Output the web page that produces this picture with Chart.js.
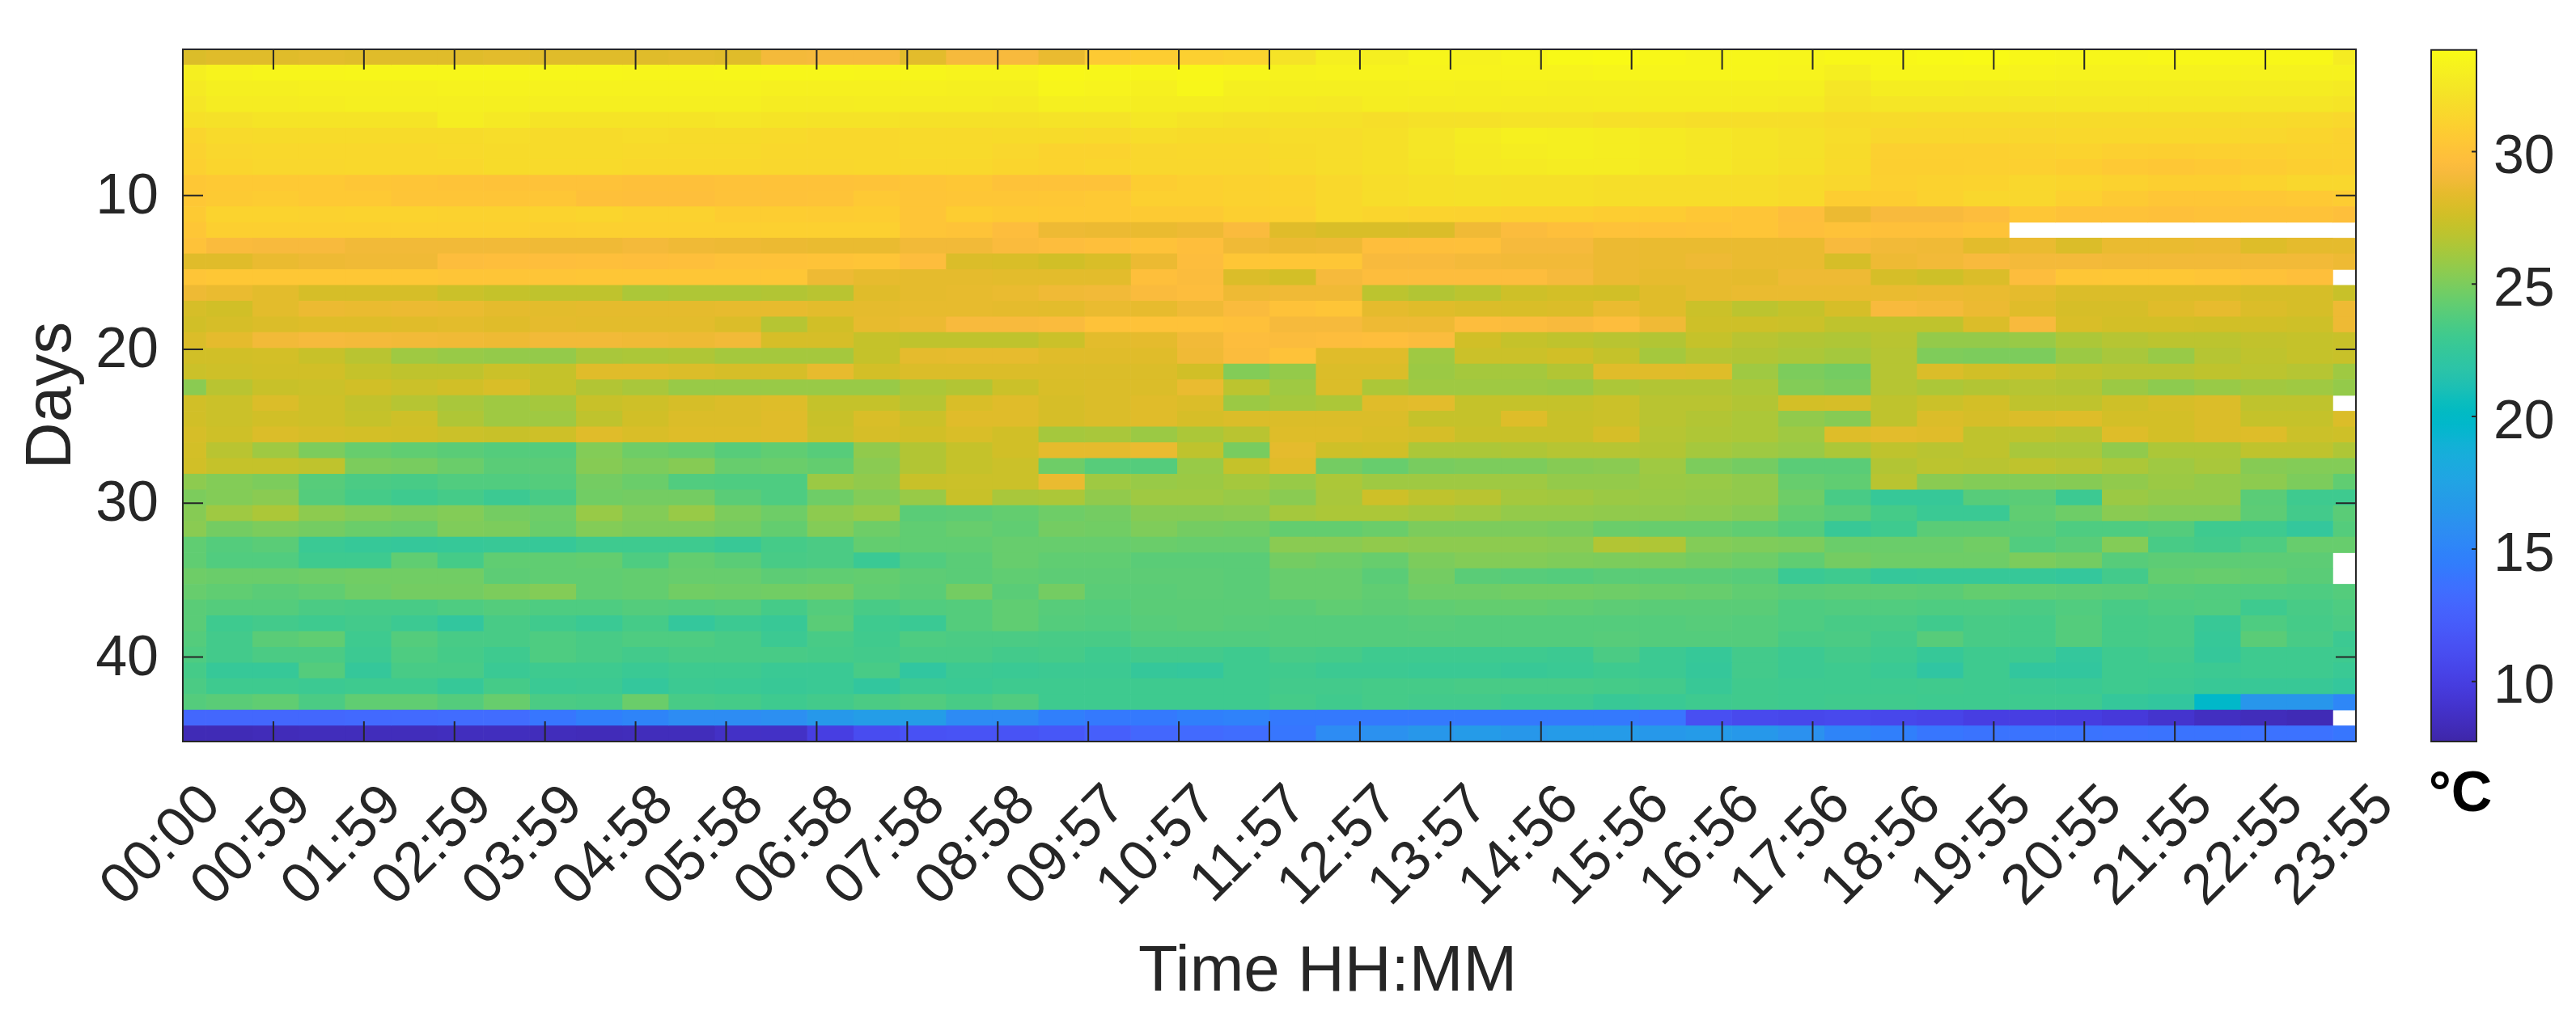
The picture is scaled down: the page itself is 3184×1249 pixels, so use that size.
<!DOCTYPE html>
<html lang="en">
<head>
<meta charset="UTF-8">
<title>Temperature by day and time</title>
<style>
  html, body { margin: 0; background: white; overflow: hidden; }
  canvas { position: absolute; left: 0; top: 0; }
</style>
<script src="https://cdn.jsdelivr.net/npm/chart.js"></script>
</head>
<body>
<canvas id="heat" width="3184" height="1249"></canvas>
<canvas id="bar" width="3184" height="1249"></canvas>
<script>
const timeLabels = ['00:00','00:59','01:59','02:59','03:59','04:58','05:58','06:58','07:58','08:58','09:57','10:57','11:57','12:57','13:57','14:56','15:56','16:56','17:56','18:56','19:55','20:55','21:55','22:55','23:55'];
const dayTicks = [10, 20, 30, 40];
const barTicks = [10, 15, 20, 25, 30];
const tempMin = 7.73;
const tempMax = 33.84;

// one row per image line, half hourly columns, null = no reading (white)
const tempRows = [
[28,28.2,28.2,28.3,28.2,28.2,28.2,28.3,28.2,28.2,28.2,28.3,28.2,29.1,29.2,29.2,28.3,29.2,29.3,28.6,30.6,30.8,31,31.2,32.2,33,33,33.4,33.2,33.4,33.7,33.8,33.6,33.4,33.5,33.4,33.6,33.6,33.7,33.8,33.6,33.5,33.5,33.6,33.6,33.6,33.6,32.8],
[33,33.3,33.4,33.4,33.5,33.5,33.5,33.5,33.5,33.5,33.4,33.4,33.5,33.5,33.5,33.4,33.4,33.3,33.3,33.6,33.5,33.4,33.6,33.4,33.2,33.3,33.3,33.3,33.3,33.3,33.3,33.4,33.4,33.4,33.4,33.3,33,33.4,33.4,33.4,33.3,33.2,33.2,33.2,33.2,33.2,33.2,33.2],
[32.7,33,33,33.1,33.1,33.1,33.2,33.2,33.2,33.2,33.2,33.2,33.2,33.1,33.1,33.1,33.1,33,33,33.4,33.3,33.1,33.5,33,33,33,33,33.1,33,33.1,33,33,33,33,33,33,32.4,32.9,32.9,32.8,32.9,32.8,32.8,32.8,32.8,32.8,32.8,32.7],
[32.4,32.8,32.8,32.9,33,33,33,33,33,33,33,33,33,32.8,32.8,32.9,32.8,32.8,32.7,33,33,32.9,32.9,32.8,32.7,32.6,32.9,32.8,32.9,32.8,32.8,32.9,32.9,32.9,32.8,32.7,32.2,32.4,32.4,32.4,32.4,32.5,32.5,32.5,32.5,32.4,32.4,32.3],
[32,32.1,32.3,32.3,32.3,32.3,32.9,32.6,32.3,32.3,32.3,32.3,32.4,32.3,32.2,32.2,32.1,32.1,32.1,32.2,32.2,32.5,32.2,32.1,32.1,32.1,31.9,32.1,32.1,32.2,32.2,32,32,31.9,31.9,31.9,31.7,31.7,31.6,31.6,31.7,31.7,31.7,31.7,31.7,31.7,31.6,31.5],
[31.3,31.6,31.7,31.7,31.7,31.7,31.7,31.8,31.7,31.7,31.8,31.7,31.7,31.6,31.5,31.5,31.6,31.6,31.7,31.7,31.6,31.8,31.7,31.7,31.8,31.8,32,32.4,32.8,33.1,33,32.9,32.7,32.5,32.3,32.1,31.8,31.4,31.4,31.4,31.4,31.5,31.5,31.5,31.5,31.4,31.3,31.1],
[31.1,31.4,31.5,31.5,31.5,31.5,31.6,31.7,31.7,31.7,31.6,31.6,31.6,31.5,31.5,31.5,31.6,31.6,31.4,31.2,31.2,31.4,31.5,31.5,31.7,31.8,32,32.4,32.7,32.9,33,32.9,32.7,32.5,32.3,32.1,31.7,31,31,31,31.1,31.2,31,30.9,31,31,31.1,31.1],
[31,31.3,31.4,31.4,31.5,31.5,31.5,31.7,31.6,31.6,31.5,31.5,31.5,31.4,31.4,31.5,31.5,31.5,31.3,31.2,31.3,31.4,31.4,31.4,31.6,31.8,32,32.3,32.6,32.7,32.8,32.8,32.6,32.5,32.2,32,31.6,30.9,30.9,31,31,30.8,30.5,30.4,30.5,30.7,30.9,31],
[30.4,30.5,30.5,30.5,30.3,30.2,30.1,30,30,30,29.9,29.9,30,30,30,30.1,30.2,30.4,30,30,30,30.8,31,31.1,31.2,31.5,31.8,32,32.1,32,32,31.9,31.8,31.8,31.8,31.6,31.4,31,31.1,31.2,31.4,31.3,31.1,30.9,30.9,31.2,31.4,31.4],
[30.4,30.6,30.7,30.5,30.5,30.2,30.2,30.2,30.3,29.9,29.8,29.8,30,30,30.1,30.5,30.2,30.3,30.3,30.4,30.5,31,31,31.1,31.2,31.5,31.8,32,32.1,32,32,31.9,31.8,31.8,31.8,31.6,30.8,30.8,31.1,31.4,31.4,31,30.6,30.3,30.3,30.4,30.5,30.7],
[30.6,31.2,31.2,31.1,31.2,31.2,31.1,31.1,31.2,31.3,31.1,31.1,30.8,30.8,30.7,30.8,30.2,30.8,30.6,30.5,30.5,30.6,30.6,30.9,31,31.5,31.3,31.2,31.1,31,31,30.8,30.7,30.4,30.2,29.7,28.7,29.3,29.3,29.6,30.3,30,30,29.9,30,30,30,29.8],
[30.3,30.9,30.9,30.9,30.9,31,31,31,30.9,31,31,31,31,31,31,31,30.2,30.1,29.6,28.8,28.7,28.6,28.8,29.4,28.2,27.9,27.9,28,28.9,29.5,29.8,30,30,30.1,30.2,29.8,30,29.9,29.9,30.1,null,null,null,null,null,null,null,null],
[30,29.4,29.3,29.3,29,29,29,29,28.9,28.9,29.1,28.9,28.8,28.7,28.6,28.6,29,29,29.4,29.6,29.8,30,29.7,28.9,28.7,28.8,29.7,29.8,29.9,29.2,29.2,28.7,28.6,28.6,28.6,28.6,29.3,29,28.9,28.3,28.6,28,28.6,28.6,28.7,28.1,28.4,28.4],
[28.2,28.2,28.6,28.8,28.9,28.9,29.6,29.7,29.7,29.8,29.7,29.8,30,30,30.1,30.2,29.6,28,27.9,27.6,27.9,28.7,29.6,30.3,30.3,30.3,29.3,29.3,29.1,29,29,28.7,28.6,28.8,28.6,28.6,27.8,28.8,29,29.3,29.1,29.1,29,29,29,29,29,28.8],
[30.2,30.4,30.4,30.4,30.4,30.4,30.2,30.2,30.2,30.3,30.3,30.3,30.3,30.3,28.8,28.5,28.4,28.4,28.3,28.3,28.3,29.8,29.5,28,27.7,29.2,29.6,29.6,29.6,29.6,29.2,28.7,28.5,28.5,28.4,28.8,28.8,27.8,27.5,28,29.6,30.3,30.4,30.4,30.2,30,29.8,null],
[28.8,28.6,28.3,27.8,27.8,27.8,27.4,27.2,27,27,26.4,26.5,26.5,26.6,26.8,28.2,28.4,28.5,28.6,28.9,29,29.4,29.6,28.8,28.9,28.9,26.9,26.6,26.9,27.5,27.7,27.6,28.2,28.5,28.6,28.6,28.6,28.6,28.7,28.6,28.4,28,28,28,28,27.8,27.8,27.3],
[27.8,27.6,28.3,28.7,28.6,28.7,28.6,28.4,28.3,28.4,28.4,28.4,28.5,28.5,28.3,28.4,28.5,28.5,28.4,28.3,28.6,28.5,28.9,29.4,30,30.2,28.4,28.2,28,27.9,28,28.6,28.2,27.4,26.9,27.2,27.8,29.3,29.1,28.7,28.2,27.8,27.8,28.2,28.5,28,27.8,28.8],
[27.6,27.8,28,28.1,28.1,28.2,28.3,28.2,28.4,28.3,28.3,28.3,28,26.7,27.6,28.5,28.7,29.3,29.3,29.4,30,30,30,29.9,29.2,29.2,28.8,28.8,29.6,29.5,29.3,29.6,28.9,27.5,27.5,27.4,27,27,27,28,29.3,27.9,27.7,27.7,27.6,27.6,27.5,28.8],
[28,28.4,29,29.2,29.1,29,28.9,28.8,29,29,28.9,28.8,29,27.8,27.8,27.2,27,27,27,27.4,28.3,28.4,29,29.6,29.5,29.6,29.7,29.5,27.6,27.2,27,26.8,26.6,27.2,26.8,26.6,26.5,26.8,25.7,25.7,25.8,26.4,26.7,26.9,26.9,27.1,27.2,27.3],
[27.6,27.6,27.7,27.3,26.8,26,25.8,25.7,25.7,26.3,26.4,26.5,26.2,26.2,26.2,27.2,28.4,28.5,28.5,28.2,28.2,28.2,28.9,29.5,30,28.2,28.2,26,27.4,27.4,27.6,27.2,26.2,26.7,26.6,26.4,26.2,26.7,25.1,25,25,25.9,26.3,25.8,26.7,27,27.2,27.3],
[27.4,27.5,27.6,27.6,27.2,27,27,27.4,27.2,28.2,28.2,28,27.8,27.8,28.5,27.7,28,28,28,28,28,28,27.6,25.2,25.7,28,28,25.9,26.2,26.2,26.6,28.2,28.2,28.1,26,25,24.8,26.7,28,27.6,27.4,27,26.8,26.8,27,26.9,26.7,26],
[25.4,26.8,27.3,27.4,27.6,27.4,27.6,27.9,27.2,26.6,26.3,25.8,25.8,25.8,25.8,25.8,26.4,26.6,27.4,27.9,28,28,28.6,26.9,26,28,26.4,26,26,26,25.9,26.4,26.6,26.6,26.4,25.2,25,26.7,26.4,26.6,26.7,26.6,25.9,25.5,25.8,26.1,26,25.7],
[27.6,27.4,28,27.5,27.1,26.7,26.3,26,26.2,27.3,27.5,27.8,28,28.1,27.2,27.2,26.7,27.9,28.2,27.8,28,28.2,28,25.9,26.2,26.4,28.2,28.3,27.2,27.2,27.2,27.4,26.8,26.8,26.6,27.7,27.8,27,27.4,27.7,27,27,27.5,27.8,28,27,27,null],
[27.6,27.4,27.6,27.5,27.2,27.5,26.5,26,26,27,27.6,28,28,28.2,27.3,27.9,27.4,28.2,28.2,27.8,28,28.2,27.8,28,28,28,28,27.2,27.2,28.1,27.3,27.4,26.8,26.6,26.4,25.6,25.3,27,28,27.8,28,28.1,27.7,27.7,28,27.2,27.2,28],
[27.8,27.5,28,27.8,27.7,27.6,27.4,27.3,27.5,28.2,27.9,28.1,28.1,28.2,27.4,27.8,27.6,27.9,27.6,26.2,26.3,25.9,26.4,26.8,28.1,28.1,27.9,27.8,27.3,27.3,27.3,27.8,26.7,26.5,26.4,26,28.1,28.3,28.2,27,27,26.8,28.1,27.7,28,28.1,27.4,27.5],
[27.7,26.8,26,25,24.4,24.2,24,23.8,23.8,25.2,24.6,24.4,23.9,24.2,23.9,25.6,26.6,27.2,27.6,28.4,28.4,28.6,27,24.9,28.4,27.5,27.6,26.4,26.4,26.5,26.7,26.7,26.6,26.2,26,25.8,26.4,27,26.8,27,26.3,26.3,25.6,26.4,26.4,27,27,26.5],
[27.6,27.2,27.2,27,25,24.9,24.5,24,24,25.3,25,25.3,24.4,24.5,24.3,25.4,26.6,27.2,27.4,24.6,23.9,23.8,25.8,27.2,28.2,24.8,24.4,24.9,25,25,25.3,25.4,26,25,24.8,24,24,26.6,26.9,26.8,27,26.8,26.4,26,26.3,25.3,25.2,25.2],
[25.5,25.2,25,23.9,23.5,23.4,23.7,23.7,23.8,24.8,24.5,23.7,23.6,23.6,25.9,25.6,27.3,27.4,27.4,28.6,26,25.8,25.9,26.2,25.8,26.4,26,26,26,26,25.7,25.7,25.9,25.8,25.6,24.4,24.2,26.8,25.4,25.2,25.2,25.3,25.6,25.9,25.7,25.5,25,24.2],
[25,25.2,25.4,23.8,23.3,23,23.3,22.9,23.4,24.7,24.8,24.8,24,23.6,24.6,25.2,25.8,27.3,26.3,26.4,25.6,26,26,25.8,25.4,26.3,27.5,27,26.8,26.2,26.1,25.9,25.8,25.7,25.6,24.6,23.4,22.6,22.6,23.9,24,22.9,25.9,25.7,25.7,24,23,23],
[25.3,26,26.4,25.5,25.2,25,25.2,24.8,24.6,25.8,25.2,25.8,25,24.6,25.5,25.8,24,24.1,24.3,24.6,24.8,25.3,25.3,25.4,26.2,26.4,26.4,26.2,26,25.7,25.7,25.6,25.6,25.5,25.3,24.3,24,23.3,22.8,22.8,24.2,24.6,25.4,25.2,25.2,24.1,23.2,24],
[25.4,24.8,25,24.8,24.5,24.4,25.1,25,24.5,25.2,25,25,24.8,24.3,25.2,24.6,24.2,24.4,24.2,24.8,24.7,25.1,24.8,24.7,24.3,24.3,24.5,25,25,25,24.9,24.5,24.4,24.4,24.2,23.8,22.7,23,24,24,24,23.6,23.6,23.8,23,23,22.4,23.8],
[24.2,23.8,24,22.8,22.6,22.5,22.6,22.7,22.6,23,23,23,22.7,23.3,23.5,24.3,24.2,24.2,24.4,24.4,24.4,24.5,24.4,24.4,25.4,25.4,25.6,25.5,25.5,25.5,25.4,26.6,26.5,25.2,25.1,25,24.5,24.5,24.5,24.7,23.7,24,25.2,23.4,23.2,23.6,24.4,24.4],
[24.2,23.7,23.7,23,23,24.2,23.3,24.2,24.2,24.3,23.6,24.3,24,23.4,23.5,22.8,23.7,24,24.4,24.2,24.2,24,24,24,24.8,24.6,24.4,25,25.2,25.2,25.1,25,25,24.8,24.6,24.2,24.8,24.6,24.6,24.6,25,24.8,23.9,24.1,24.1,24.1,24.1,null],
[24.6,24.5,24.5,24.6,24.7,24.7,24.7,24.1,24.2,24.2,24.3,24.4,24.4,24.1,24.2,24.3,24.1,24,24.2,24.1,24.1,24.1,24.1,24,24.4,24.4,24,24.8,24,23.9,23.8,24,24,24,23.9,22.8,23,22.5,22.6,22.6,22.6,22.4,23.2,24.3,24.4,24.3,24,null],
[24.4,24.2,24,24.2,24.6,24.8,24.8,25,25.2,24.2,24.3,24.7,24.6,24.7,24.8,24.2,24,24.8,24,24.8,24,24,24.1,24,24.4,24.4,24.2,24.6,24.6,24.7,24.7,24.6,24.5,24.4,24.2,24,24.1,24.1,24,24.3,24.2,24.1,24,23.8,23.7,23.7,23.6,23.8],
[24,23.8,23.8,23.5,23.4,23.4,23.6,23.8,23.6,23.6,23.8,23.7,23.8,23.3,23.8,23.4,23.7,23.8,24.2,23.9,23.8,24,24,24,24,24.2,24.1,24.2,24.3,24.3,24.2,24.1,24,24,24,23.6,23.7,23.7,23.6,23.6,23.5,23.7,23.4,23.6,23.7,23,23.4,23.6],
[24,23,23.2,23,23.2,22.9,22.3,23.4,23.1,22.8,23.3,22.4,22.9,22.7,24,23,22.8,23.8,24.2,23.8,23.7,23.9,24,23.9,23.8,23.8,23.8,23.9,23.8,23.8,23.8,23.8,23.8,23.9,23.8,23.6,23.4,23.4,23.1,23.4,23.3,23.8,23.3,23.4,22.7,23.6,23.3,23.5],
[23.8,23.2,24,24.2,23,23.8,23.4,23.4,23.6,23.4,23.6,23.6,23.4,22.9,23.4,23.1,23.6,23.5,23.5,23.4,23.4,23.7,23.7,23.7,23.8,23.8,23.8,23.8,23.8,23.8,23.8,23.9,23.8,23.8,23.8,23.4,23.5,23.2,23.9,23.4,23.3,23.8,23.3,23.4,22.6,24,23.4,22.9],
[23.6,23.2,23.5,23.5,22.9,23.6,23.3,23,23.6,23.4,23.2,23.4,23.4,23.4,23.3,23.2,23.4,23.4,23.2,23.3,23,23.2,23.2,23,23.4,23.3,23,23,23,23,22.9,23.5,22.9,22.6,23.2,22.9,23.2,23,22.6,23,23,22.4,23,23.2,22.5,23,23,23],
[23.3,22.6,22.6,23.8,22.5,23.4,23.4,22.8,23,23,22.8,23,23,22.8,22.8,23.4,22.2,22.9,22.8,22.9,22.9,22.5,22.4,23,23.1,22.9,22.9,22.8,22.8,22.7,22.8,23,22.9,22.5,23.2,22.9,23,22.8,22.1,23,22.3,22.3,23,23,22.9,23,23,22.8],
[23.5,23,23,22.9,23,23,22.6,23.3,22.8,22.9,22.4,22.9,22.8,22.7,22.8,22.3,22.9,22.8,23,23,23,23,23,23,23.2,23.2,23.3,23.3,23.4,23.4,23.4,23.3,23.2,22.7,23.1,23,23,23,23.1,23,22.9,22.8,23,22.9,22.7,22.7,22.7,22.4],
[23.8,24,24.2,23.5,24.2,24.2,23.8,24.4,23.5,23.4,24.5,23.4,23.3,23,23.2,23.5,23.7,23.4,23.7,23,23,23,23,23,23.3,23.1,23.3,23.2,23.2,23,23,22.7,22.8,23,23.1,23,23.1,23.1,23,23,23,23,22.5,22.3,19.8,16.4,16.4,15.2],
[13,13,13,13,13.1,13.2,13.3,13.3,14,14.6,15,15.6,15.6,15.8,16.6,17,17,15.5,15.5,14.6,14.2,14.2,14.6,14.8,14.2,14.2,14.2,14.2,14.2,14.2,14.2,14.2,13.9,11.2,10.8,10.6,10.8,10.6,10.4,10,10,9.9,9.6,9.1,8.6,8.4,8.2,null],
[8.2,8.2,8.3,8.4,8.4,8.4,8.5,8.5,8.4,8.3,8.4,8.4,8.8,8.8,10,11,11.4,11.5,11.5,11.8,12.4,13,13.2,13.4,14,15.6,16,16.5,16.8,16.5,16.8,16.8,16.6,16.8,16.6,16,15,14.6,14,13.8,13.8,13.8,13.7,13.8,13.8,13.7,13.7,14]
];

// parula
const parula = [[.2422,.1504,.6603],[.2504,.1650,.7076],[.2578,.1818,.7511],[.2647,.1978,.7952],[.2706,.2147,.8364],[.2751,.2342,.8710],[.2783,.2559,.8991],[.2803,.2782,.9221],[.2813,.3006,.9414],[.2810,.3228,.9579],[.2795,.3447,.9717],[.2760,.3667,.9829],[.2699,.3892,.9906],[.2602,.4123,.9952],[.2440,.4358,.9988],[.2206,.4603,.9973],[.1963,.4847,.9892],[.1834,.5074,.9798],[.1786,.5289,.9682],[.1764,.5499,.9520],[.1687,.5703,.9359],[.1540,.5902,.9218],[.1460,.6091,.9079],[.1380,.6276,.8973],[.1248,.6459,.8883],[.1113,.6635,.8763],[.0952,.6798,.8598],[.0689,.6948,.8394],[.0297,.7082,.8163],[.0036,.7203,.7917],[.0067,.7312,.7660],[.0433,.7411,.7394],[.0964,.7500,.7120],[.1408,.7584,.6842],[.1717,.7670,.6554],[.1938,.7758,.6251],[.2161,.7843,.5923],[.2470,.7918,.5567],[.2906,.7973,.5188],[.3406,.8008,.4789],[.3909,.8029,.4354],[.4456,.8024,.3909],[.5044,.7993,.3480],[.5616,.7942,.3045],[.6174,.7876,.2612],[.6720,.7793,.2227],[.7242,.7698,.1910],[.7738,.7598,.1646],[.8203,.7498,.1535],[.8634,.7406,.1596],[.9035,.7330,.1774],[.9393,.7288,.2100],[.9728,.7298,.2394],[.9956,.7434,.2371],[.9970,.7659,.2199],[.9952,.7893,.2028],[.9892,.8136,.1885],[.9786,.8386,.1766],[.9676,.8639,.1643],[.9610,.8890,.1537],[.9597,.9135,.1423],[.9628,.9373,.1265],[.9691,.9606,.1064],[.9769,.9839,.0805]];

function colorAt(f) {
  const p = Math.min(Math.max(f, 0), 1) * (parula.length - 1);
  const i = Math.min(Math.floor(p), parula.length - 2);
  const c = parula[i].map((v, k) => Math.round(255 * (v + (parula[i + 1][k] - v) * (p - i))));
  return `rgb(${c[0]},${c[1]},${c[2]})`;
}
function tempColor(v) { return colorAt((v - tempMin) / (tempMax - tempMin)); }

const ink = '#262626';
const fontName = '"Liberation Sans", Arial, sans-serif';
Chart.defaults.font.family = fontName;
Chart.defaults.color = ink;

// the image is stretched over the axes: 44 lines over 45 day units, 48 columns over 24 tick steps
const rowUnit = 45 / tempRows.length;
const colUnit = (timeLabels.length - 1) / (tempRows[0].length - 1);

const cellSets = tempRows[0].map((_, c) => {
  const data = [];
  tempRows.forEach((row, r) => {
    if (row[c] === null) return;
    data.push({
      x: [Math.max(0, (c - 0.5) * colUnit), Math.min(timeLabels.length - 1, (c + 0.5) * colUnit)],
      y: 0.5 + (r + 0.5) * rowUnit,
      t: row[c]
    });
  });
  return {
    label: 'col ' + c,
    data: data,
    grouped: false,
    barPercentage: 1,
    categoryPercentage: 1,
    backgroundColor: ctx => ctx.raw ? tempColor(ctx.raw.t) : 'white'
  };
});

// box and the inward tick marks
const heatFrame = {
  id: 'heatFrame',
  afterDatasetsDraw(chart) {
    const { ctx, chartArea: a, scales: { x, y } } = chart;
    ctx.save();
    ctx.strokeStyle = ink;
    ctx.lineWidth = 2;
    ctx.beginPath();
    timeLabels.forEach((_, i) => {
      const px = x.getPixelForValue(i);
      ctx.moveTo(px, a.top); ctx.lineTo(px, a.top + 25);
      ctx.moveTo(px, a.bottom); ctx.lineTo(px, a.bottom - 25);
    });
    dayTicks.forEach(d => {
      const py = y.getPixelForValue(d);
      ctx.moveTo(a.left, py); ctx.lineTo(a.left + 25, py);
      ctx.moveTo(a.right, py); ctx.lineTo(a.right - 25, py);
    });
    ctx.rect(a.left, a.top, a.right - a.left, a.bottom - a.top);
    ctx.stroke();
    // x title sits right of the axis centre in the original
    ctx.fillStyle = ink;
    ctx.font = '80px ' + fontName;
    ctx.textAlign = 'center';
    ctx.textBaseline = 'middle';
    ctx.fillText('Time HH:MM', 1641, 1203);
    ctx.restore();
  }
};

new Chart(document.getElementById('heat'), {
  type: 'bar',
  data: { datasets: cellSets },
  plugins: [heatFrame],
  options: {
    indexAxis: 'y',
    responsive: false,
    animation: false,
    events: [],
    layout: { padding: { top: 61, right: 272, left: 0, bottom: 0 } },
    plugins: { legend: { display: false }, tooltip: { enabled: false } },
    scales: {
      x: {
        type: 'linear',
        min: 0,
        max: timeLabels.length - 1,
        grid: { display: false, drawTicks: false },
        border: { display: false },
        afterBuildTicks: s => { s.ticks = timeLabels.map((_, i) => ({ value: i })); },
        afterFit: s => { s.height = 332; s.paddingLeft = 0; s.paddingRight = 0; },
        ticks: {
          autoSkip: false,
          minRotation: 45,
          maxRotation: 45,
          padding: 38,
          labelOffset: 36,
          font: { size: 70 },
          callback: v => timeLabels[v]
        }
      },
      y: {
        type: 'linear',
        reverse: true,
        offset: false,
        min: 0.5,
        max: 45.5,
        grid: { display: false, drawTicks: false },
        border: { display: false },
        afterBuildTicks: s => { s.ticks = dayTicks.map(d => ({ value: d })); },
        afterFit: s => { s.width = 226; s.paddingTop = 0; s.paddingBottom = 0; },
        title: { display: true, text: 'Days', font: { size: 80 }, padding: { top: 17, bottom: 0 } },
        ticks: { padding: 30, labelOffset: 3, font: { size: 70 } }
      }
    }
  }
});

const barFrame = {
  id: 'barFrame',
  afterDatasetsDraw(chart) {
    const { ctx, chartArea: a, scales: { y } } = chart;
    ctx.save();
    ctx.strokeStyle = ink;
    ctx.lineWidth = 2;
    ctx.beginPath();
    barTicks.forEach(t => {
      const py = y.getPixelForValue(t);
      ctx.moveTo(a.right, py); ctx.lineTo(a.right - 6, py);
    });
    ctx.rect(a.left, a.top, a.right - a.left, a.bottom - a.top);
    ctx.stroke();
    // a scale title would get squeezed to the bar width, so the unit goes here
    ctx.fillStyle = '#000';
    ctx.font = 'bold 70px ' + fontName;
    ctx.textAlign = 'center';
    ctx.textBaseline = 'middle';
    ctx.fillText('°C', 3041, 984);
    ctx.restore();
  }
};

new Chart(document.getElementById('bar'), {
  type: 'bar',
  data: {
    labels: [''],
    datasets: [{
      label: 'scale',
      data: [[tempMin, tempMax]],
      barPercentage: 1,
      categoryPercentage: 1,
      backgroundColor: ctx => {
        const a = ctx.chart.chartArea;
        if (!a) return 'white';
        const g = ctx.chart.ctx.createLinearGradient(0, a.bottom, 0, a.top);
        parula.forEach((_, i) => g.addColorStop(i / (parula.length - 1), colorAt(i / (parula.length - 1))));
        return g;
      }
    }]
  },
  plugins: [barFrame],
  options: {
    responsive: false,
    animation: false,
    events: [],
    layout: { padding: { top: 61, left: 3005, right: 0, bottom: 0 } },
    plugins: { legend: { display: false }, tooltip: { enabled: false } },
    scales: {
      x: {
        grid: { display: false, drawTicks: false },
        border: { display: false },
        ticks: { display: false },
        afterFit: s => { s.height = 332; }
      },
      y: {
        position: 'right',
        min: tempMin,
        max: tempMax,
        grid: { display: false, drawTicks: false },
        border: { display: false },
        afterBuildTicks: s => { s.ticks = barTicks.map(t => ({ value: t })); },
        afterFit: s => { s.width = 123; },
        ticks: { padding: 21, labelOffset: 8, font: { size: 68 } }
      }
    }
  }
});
</script>
</body>
</html>
